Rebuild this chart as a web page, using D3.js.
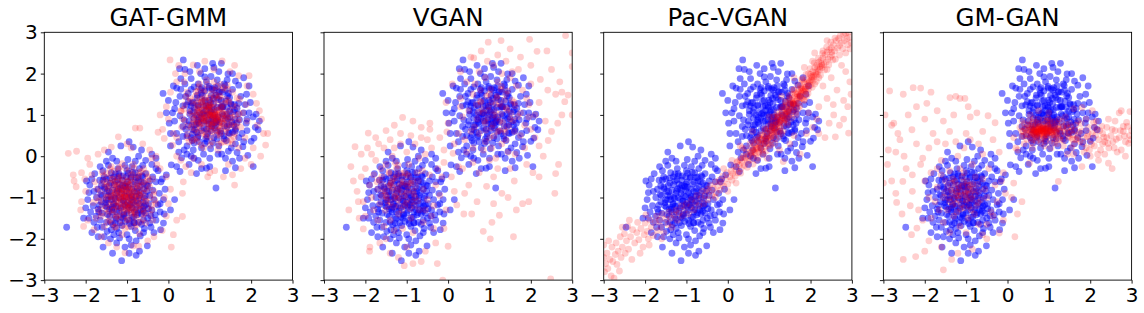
<!DOCTYPE html>
<html>
<head>
<meta charset="utf-8">
<title>GAN mixtures</title>
<style>
  body { margin: 0; background: #fff; }
  text { font-family: "DejaVu Sans", sans-serif; fill: #000; }
</style>
</head>
<body>
<div id="chart"></div>
<script src="https://cdn.jsdelivr.net/npm/d3@7"></script>
<script>
// panel titles and shared ticks
const titles = ['GAT-GMM', 'VGAN', 'Pac-VGAN', 'GM-GAN'];
const ticks = [-3, -2, -1, 0, 1, 2, 3];

// real samples (blue), same in every panel
const realPts = [
  [-2.46,-1.72],[-1.13,-2.53],[-1.15,0.25],[-0.95,0.35],[-0.85,0.22],[-0.19,-1.78],[0.05,-1.3],[0.15,-1.05],[-0.51,-2.17],[-0.68,-1.93],
  [-1.9,-0.7],[-1.95,-1.05],[-1.88,-1.35],[-1.8,-1.6],[-1.72,-1.72],[-1.55,-1.95],[-1.4,-2.0],[-1.25,-2.1],[-1.05,-2.2],[-0.9,-2.15],
  [-0.78,-2.05],[-0.6,-1.85],[-0.42,-1.72],[-0.3,-1.55],[-0.2,-1.35],[-0.12,-1.05],[-0.08,-0.8],[-0.15,-0.55],[-0.25,-0.35],[-0.4,-0.2],
  [-0.55,-0.1],[-0.72,0.0],[-1.35,-0.05],[-1.5,-0.12],[-1.65,-0.25],[-1.78,-0.42],[-1.85,-0.55],[-1.7,-0.8],[-1.62,-1.1],[-1.6,-1.38],
  [-1.5,-1.6],[-1.38,-1.78],[-1.2,-1.85],[-1.0,-1.9],[-0.8,-1.8],[-0.65,-1.65],[-0.5,-1.5],[-0.4,-1.3],[-0.35,-1.05],[-0.38,-0.82],
  [-0.45,-0.6],[-0.55,-0.42],[-0.7,-0.3],[-0.88,-0.25],[-1.05,-0.22],[-1.22,-0.3],[-1.38,-0.4],[-1.5,-0.55],[-1.55,-0.75],[-1.45,-0.95],
  [-1.32,-1.15],[-1.25,-1.35],[-1.1,-1.5],[-0.95,-1.55],[-0.75,-1.42],[-0.62,-1.25],[-0.58,-1.02],[-0.6,-0.8],[-0.72,-0.6],[-0.9,-0.5],
  [-1.1,-0.48],[-1.28,-0.6],[-1.35,-0.82],[-1.2,-1.0],[-1.05,-1.18],[-0.88,-1.25],[-0.78,-1.08],[-0.82,-0.85],[-0.98,-0.75],[-1.12,-0.82],
  [-1.02,-0.98],[-0.92,-1.02],[-1.15,-1.25],[-1.3,-1.0],[-0.7,-0.95],[-0.85,-0.68],[-1.18,-0.68],[-1.42,-1.28],[-1.0,-1.38],[-0.7,-1.15],
  [-2.0,-1.25],[-1.92,-0.88],[-1.82,-1.2],[-1.75,-1.45],[-1.66,-0.58],[-1.58,-0.35],[-1.45,-0.22],[-1.25,-0.12],[-0.98,-0.08],[-0.8,-0.12],
  [-0.62,-0.22],[-0.3,-0.62],[-0.22,-0.9],[-0.25,-1.18],[-0.32,-1.42],[-0.45,-1.62],[-0.58,-1.75],[-0.95,-2.0],[-1.18,-1.98],[-1.32,-1.9],
  [-1.48,-1.82],[-1.6,-1.72],[-1.65,-1.55],[-1.7,-1.28],[-1.74,-1.0],[-1.6,-0.95],[-1.52,-1.2],[-1.42,-1.45],[-1.28,-1.62],[-1.12,-1.68],
  [-0.9,-1.7],[-0.72,-1.6],[-0.55,-1.38],[-0.48,-1.15],[-0.45,-0.95],[-0.5,-0.72],[-0.62,-0.5],[-0.8,-0.4],[-1.0,-0.35],[-1.2,-0.42],
  [-1.4,-0.65],[-1.48,-0.85],[-1.38,-1.05],[-1.22,-1.2],[-0.82,-1.35],[-0.65,-1.4],[-0.88,-1.48],[-1.08,-1.4],[-0.6,-0.65],[-0.75,-0.78],
  [-0.95,-0.88],[-1.08,-1.08],[-1.25,-0.9],[-1.12,-0.58],[-0.98,-0.62],[-0.85,-1.12],[-0.68,-1.3],[-1.35,-1.35],[-1.5,-1.05],[-1.55,-0.5],
  [-0.3,-0.3],[-0.18,-0.62],[-0.1,-1.4],[-0.35,-1.85],[-0.7,-2.3],[-0.78,-2.4],[-1.58,-2.2],[-1.7,-1.95],[-2.05,-1.5],[-1.98,-0.6],
  [-1.45,0.1],[-0.3,-0.05],[-0.05,-0.45],[-0.12,-1.62],[-1.35,-2.35],[-0.95,-2.35],[-1.85,-1.85],[-1.92,-1.5],[-0.4,0.05],[-0.65,0.15],
  [-1.05,-0.72],[-0.9,-0.95],[-1.15,-1.05],[-0.98,-1.22],[-1.28,-1.48],[-0.55,-1.18],[-0.52,-0.85],[-0.78,-0.52],[-1.32,-0.5],[-1.62,-0.72],
  [-1.68,-1.35],[-1.25,-1.75],[-0.82,-1.62],[-0.42,-1.45],[-0.38,-0.5],[-1.02,-0.5],[-1.4,-1.6],[-0.6,-1.55],[-0.2,-1.15],[-1.8,-0.85],
  [-0.93,-1.17],[-1.21,-0.79],[-0.67,-0.88],[-1.36,-1.24],[-0.81,-0.63],[-1.07,-1.43],[-1.44,-0.71],[-0.59,-1.21],[-1.13,-0.91],[-0.87,-1.06],
  [-1.28,-0.43],[-0.73,-1.37],[-1.52,-1.13],[-1.01,-0.67],[-0.64,-0.47],[-1.17,-1.61],[-1.39,-0.97],[-0.96,-1.31],[-0.78,-0.97],[-1.23,-0.57],
  [-1.47,-1.41],[-0.69,-0.73],[-1.09,-1.09],[-0.84,-1.47],[-1.31,-0.69],[-1.02,-0.83],[-0.56,-0.96],[-1.19,-1.33],[-1.63,-0.93],[-0.91,-0.53],
  [-1.33,-1.17],[-0.77,-1.19],[-1.06,-0.96],[-1.41,-0.53],[-0.61,-1.33],[-1.26,-1.52],[-0.97,-0.41],[-1.54,-0.79],[-0.83,-1.61],[-1.11,-0.71],
  [-0.71,-1.02],[-1.37,-1.29],[-0.99,-1.12],[-1.24,-0.84],[-0.89,-0.79],[-1.49,-1.23],[-0.66,-0.62],[-1.14,-1.47],[-0.79,-1.29],[-1.29,-1.03],
  [-1.58,-0.58],[-0.53,-0.71],[-1.04,-1.58],[-1.43,-0.86],[-0.74,-0.51],[-1.19,-0.47],[-0.94,-1.63],[-1.67,-1.19],[-0.48,-1.27],[-1.34,-1.66],
  [-0.86,-0.39],[-1.08,-1.22],[-0.62,-1.11],[-1.46,-1.06],[-1.16,-0.77],[-0.92,-1.18],[-1.27,-1.21],[-0.76,-0.86],[-1.03,-0.74],[-0.88,-0.98],
  [0.36,2.33],[1.07,2.25],[1.15,-0.77],[-0.13,1.52],[0.07,-0.21],[0.2,-0.25],[0.28,-0.37],[0.32,-0.04],[2.17,0.64],[2.07,0.44],
  [2.0,0.36],[1.8,0.23],[1.66,0.09],[2.05,-0.25],[0.92,-0.29],[1.29,0.05],[0.27,2.12],[0.4,2.1],[1.1,2.15],[1.44,1.99],
  [1.03,1.93],[1.89,1.5],[1.7,1.72],[0.12,1.7],[0.2,1.65],[0.02,0.8],[0.05,0.55],[0.1,1.05],[0.18,1.3],[0.25,0.35],
  [0.38,0.15],[0.55,0.0],[0.72,-0.1],[1.0,-0.05],[1.45,0.12],[1.62,0.3],[1.78,0.55],[1.88,0.8],[1.95,1.05],[1.85,1.25],
  [1.75,1.45],[1.55,1.62],[1.35,1.75],[1.18,1.85],[0.92,1.8],[0.72,1.75],[0.55,1.62],[0.42,1.45],[0.35,1.22],[0.28,0.98],
  [0.35,0.72],[0.45,0.5],[0.62,0.32],[0.8,0.2],[1.02,0.18],[1.22,0.25],[1.4,0.38],[1.55,0.58],[1.65,0.8],[1.68,1.02],
  [1.6,1.25],[1.48,1.42],[1.3,1.55],[1.1,1.6],[0.88,1.58],[0.7,1.48],[0.6,1.3],[0.52,1.1],[0.5,0.85],[0.58,0.65],
  [0.72,0.5],[0.9,0.42],[1.1,0.45],[1.28,0.55],[1.42,0.72],[1.48,0.95],[1.42,1.18],[1.28,1.35],[1.08,1.4],[0.88,1.35],
  [0.72,1.22],[0.68,1.0],[0.75,0.78],[0.92,0.65],[1.12,0.68],[1.25,0.82],[1.3,1.02],[1.18,1.18],[0.98,1.18],[0.85,1.05],
  [0.9,0.85],[1.05,0.88],[1.12,1.0],[1.0,1.02],[0.8,0.92],[1.18,0.58],[0.62,0.92],[0.82,1.48],[1.38,1.6],[1.52,1.25],
  [1.72,0.88],[1.9,0.62],[2.1,0.7],[2.05,0.95],[1.98,1.3],[1.82,1.05],[1.7,0.45],[1.52,0.2],[1.2,0.05],[0.85,0.05],
  [0.6,0.15],[0.45,0.25],[0.2,0.55],[0.15,0.85],[0.15,1.15],[0.28,1.45],[0.4,1.75],[0.55,1.88],[0.78,2.0],[1.22,2.05],
  [1.42,1.85],[1.62,1.82],[1.95,1.7],[0.45,0.05],[0.62,-0.05],[0.8,-0.3],[1.0,-0.25],[1.38,-0.05],[1.55,-0.12],[1.72,-0.05],
  [0.98,1.65],[1.2,1.7],[0.62,1.68],[0.48,1.32],[0.38,0.88],[0.42,0.65],[0.55,0.45],[0.75,0.35],[1.35,0.42],[1.58,0.75],
  [1.6,1.12],[1.38,0.88],[0.95,0.55],[0.62,0.75],[0.55,1.22],[1.15,1.48],[1.32,1.2],[0.78,1.62],[1.02,1.3],[0.8,0.62],
  [1.15,0.85],[0.95,1.0],[0.72,0.88],[1.08,0.32],[1.48,0.55],[1.82,0.35],[1.22,1.55],[0.88,1.92],[0.52,2.05],[0.3,1.88],
  [2.12,1.02],[2.2,0.85],[1.92,0.02],[1.62,-0.28],[1.38,-0.35],[0.68,-0.42],[0.5,-0.2],[0.05,0.25],[-0.05,1.05],[0.0,1.35],
  [0.3,1.62],[0.88,2.12],[1.55,2.0],[1.28,2.25],[0.7,2.2],[1.82,1.9],[0.25,0.1],[1.05,0.72],[0.98,0.78],[1.2,0.95],
  [0.85,1.2],[1.05,1.12],[0.68,0.58],[0.58,0.38],[1.7,1.28],[1.9,0.9],[1.45,1.52],[0.35,0.48],[0.48,1.52],[1.62,0.65],
  [0.97,1.23],[1.16,0.83],[0.74,0.94],[1.31,1.19],[0.86,0.68],[1.04,1.47],[1.47,0.76],[0.63,1.16],[1.09,0.96],[0.91,1.11],
  [1.34,0.49],[0.69,1.41],[1.57,1.08],[1.03,0.62],[0.58,0.53],[1.12,1.66],[1.42,1.02],[0.99,1.36],[0.82,1.03],[1.26,0.61],
  [1.43,1.46],[0.66,0.77],[1.11,1.13],[0.79,1.52],[1.36,0.73],[0.97,0.87],[0.52,1.01],[1.22,1.37],[1.61,0.89],[0.94,0.48],
  [1.29,1.21],[0.72,1.24],[1.07,0.92],[1.46,0.57],[0.57,1.29],[1.24,1.56],[0.93,0.36],[1.53,0.83],[0.81,1.66],[1.14,0.74],
  [0.76,1.06],[1.39,1.33],[1.02,1.08],[1.19,0.88],[0.86,0.84],[1.51,1.27],[0.63,0.64],[1.17,1.42],[0.84,1.33],[1.33,0.98],
  [1.62,0.61],[0.49,0.76],[1.06,1.63],[1.44,0.91],[0.71,0.46],[1.18,0.42],[0.98,1.69],[1.66,1.16],[0.44,1.24],[1.37,1.71],
  [0.88,0.31],[1.09,1.27],[0.61,1.07],[1.48,1.09],[1.13,0.81],[0.91,1.22],[1.27,1.18],[0.73,0.82],[1.04,0.78],[0.87,0.99]
];

// generated samples (red), one list per model
const gatGmmPts = [
  [-2.42,0.07],[-2.22,0.12],[-2.3,-0.45],[-2.28,-0.6],[-2.23,-0.74],[-2.1,-0.4],[-2.1,-1.1],[-2.12,-1.3],[-1.21,0.47],[-0.8,0.68],
  [-0.69,0.68],[-0.9,0.2],[-0.4,-0.05],[-0.3,0.0],[0.36,-0.62],[0.34,-0.9],[0.34,-1.46],[0.2,-1.55],[0.12,-1.9],[0.07,-2.2],
  [-1.05,-2.34],[-0.85,-2.17],[-0.72,-2.18],[-1.9,-0.2],[-1.95,-0.05],[-1.7,0.05],[-1.55,0.15],[-1.38,0.22],[-1.0,0.3],[-0.62,0.3],
  [-0.45,0.15],[-0.2,-0.3],[-0.05,-0.5],[0.05,-0.8],[0.0,-1.15],[-0.05,-1.45],[-0.15,-1.8],[-0.35,-1.95],[-0.5,-2.05],[-1.25,-2.2],
  [-1.45,-2.1],[-1.62,-1.95],[-1.8,-1.78],[-1.95,-1.55],[-2.05,-1.7],[-2.0,-0.85],[-2.02,-0.55],[-1.85,-0.45],[-0.28,-0.2],[-0.1,-1.0],
  [-1.0,-0.9],[-1.1,-1.0],[-0.9,-1.05],[-1.2,-0.85],[-0.85,-0.8],[-1.05,-1.2],[-1.25,-1.1],[-0.95,-0.7],[-1.15,-0.65],[-0.75,-1.0],
  [-1.35,-0.95],[-0.7,-1.2],[-1.3,-0.7],[-0.88,-1.3],[-1.1,-1.35],[-1.4,-1.2],[-0.6,-0.9],[-0.65,-0.7],[-1.45,-0.8],[-0.8,-0.55],
  [-1.0,-0.5],[-1.22,-0.5],[-1.5,-1.0],[-1.55,-0.6],[-0.55,-1.1],[-0.6,-1.4],[-0.78,-1.5],[-1.0,-1.55],[-1.25,-1.45],[-1.48,-1.4],
  [-1.6,-1.2],[-1.65,-0.85],[-0.45,-0.75],[-0.5,-0.5],[-0.7,-0.4],[-0.95,-0.35],[-1.2,-0.32],[-1.4,-0.45],[-1.62,-1.45],[-0.4,-1.3],
  [-1.02,-1.05],[-0.92,-0.92],[-1.12,-0.8],[-0.98,-1.15],[-1.18,-0.98],[-0.82,-1.12],[-1.08,-0.72],[-0.72,-0.85],[-1.32,-1.3],[-0.88,-0.62],
  [-1.05,-0.98],[-0.95,-1.0],[-1.15,-1.15],[-0.85,-0.95],[-1.28,-0.88],[-0.78,-1.25],[-1.1,-0.58],[-0.65,-1.05],[-1.38,-1.08],[-0.9,-1.42],
  [-1.18,-1.55],[-1.42,-1.55],[-0.68,-1.6],[-0.52,-1.25],[-0.45,-1.0],[-0.58,-0.62],[-0.85,-0.45],[-1.35,-0.55],[-1.52,-0.75],[-1.72,-1.0],
  [-1.7,-1.3],[-1.55,-1.7],[-1.3,-1.72],[-1.05,-1.75],[-0.82,-1.72],[-0.55,-1.62],[-0.38,-1.55],[-0.3,-1.15],[-0.35,-0.85],[-0.38,-0.55],
  [-0.6,-0.3],[-0.85,-0.2],[-1.12,-0.18],[-1.38,-0.25],[-1.6,-0.38],[-1.78,-0.62],[-1.82,-1.12],[-1.75,-1.5],[-1.12,-1.9],[-0.7,-1.88],
  [-1.0,-0.8],[-1.08,-0.88],[-0.92,-0.82],[-1.02,-1.3],[-1.22,-1.22],[-0.72,-0.72],[-0.8,-1.38],[-1.3,-0.62],[-0.62,-1.28],[-1.45,-0.98],
  [-0.98,-0.6],[-1.25,-0.75],[-0.75,-0.68],[-0.95,-1.25],[-1.15,-1.28],[-0.68,-0.95],[-1.35,-1.42],[-0.52,-0.82],[-1.58,-1.05],[-1.48,-0.62],
  [-1.06,-0.93],[-0.88,-1.14],[-1.19,-0.76],[-0.94,-0.68],[-1.27,-1.07],[-0.71,-0.92],[-1.12,-1.24],[-0.83,-0.77],[-1.38,-0.84],[-1.01,-1.36],
  [-0.66,-1.17],[-1.23,-0.62],[-0.97,-0.99],[-1.33,-1.31],[-0.79,-1.43],[-1.14,-0.48],[-0.57,-0.79],[-1.46,-1.16],[-0.91,-0.57],[-1.09,-1.09],
  [-1.29,-0.93],[-0.74,-1.04],[-1.03,-0.72],[-1.18,-1.41],[-0.86,-1.27],[-1.41,-0.66],[-0.63,-0.63],[-1.07,-1.17],[-0.96,-0.84],[-1.24,-1.22],
  [-0.81,-0.96],[-1.36,-1.02],[-1.13,-0.87],[-0.69,-1.31],[-0.99,-1.53],[-1.52,-0.91],[-0.89,-0.44],[-1.21,-0.53],[-0.77,-0.71],[-1.16,-1.03],
  [-1.02,-1.21],[-0.93,-0.96],[-1.31,-0.77],[-0.84,-1.09],[-1.11,-0.64],[-1.44,-1.33],[-0.61,-0.98],[-1.26,-1.48],[-0.72,-0.54],[-1.05,-0.81],
  [-0.98,-1.27],[-1.17,-0.99],[-0.87,-0.86],[-1.35,-0.57],[-0.76,-1.22],[-1.08,-1.46],[-0.54,-1.08],[-1.48,-0.73],[-0.92,-1.16],[-1.2,-1.13],
  [-1.04,-1.01],[-0.95,-0.77],[-1.15,-0.91],[-0.82,-1.34],[-1.32,-1.18],[-0.68,-0.83],[-1.25,-0.71],[-1.0,-0.62],[-0.9,-1.38],[-1.39,-0.98],
  [-1.1,-0.79],[-0.85,-1.0],[-0.97,-1.11],[-1.22,-1.01],[-0.78,-0.89],[-1.07,-0.98],[-0.93,-1.24],[-1.19,-0.84],[-0.73,-1.13],[-1.3,-0.88],
  [-1.52,-1.27],[-0.48,-0.67],[-1.31,-0.36],[-0.62,-1.52],[-1.61,-0.66],[-0.41,-1.19],[-1.12,-1.67],[-0.83,-0.29],[-1.47,-1.58],[-0.53,-0.41],
  [-1.68,-1.08],[-0.36,-0.93],[-1.19,-0.27],[-0.77,-1.66],[-1.57,-0.47],[-0.44,-1.41],[-0.97,-1.71],[-1.41,-0.31],[-0.58,-1.37],[-1.36,-1.63],
  [-0.66,-0.37],[-1.73,-0.79],[-0.33,-1.07],[-1.04,-0.29],[-0.86,-1.58],[-1.63,-1.37],[-0.49,-0.57],[-1.27,-1.71],[-0.71,-0.47],[-1.49,-0.42],
  [0.04,2.33],[0.17,2.0],[0.6,2.21],[0.88,2.3],[1.3,2.31],[1.49,2.05],[2.13,1.28],[2.2,1.1],[2.35,0.27],[2.23,0.0],
  [2.0,-0.2],[1.6,-0.7],[1.33,-0.5],[1.0,-0.4],[1.12,-0.35],[0.55,-0.4],[0.6,-0.05],[-0.25,0.58],[-0.14,0.65],[-0.1,0.43],
  [0.1,0.27],[0.0,0.9],[-0.05,1.2],[0.05,1.55],[0.2,1.8],[0.4,2.0],[0.75,2.05],[1.1,2.1],[1.7,1.95],[1.9,1.7],
  [2.05,1.5],[2.15,0.75],[2.3,0.55],[2.05,0.2],[1.75,-0.3],[1.45,-0.2],[0.8,-0.2],[0.3,-0.1],[0.2,0.0],[0.12,0.55],
  [1.85,-0.05],[2.25,0.9],[0.25,2.2],[1.95,1.95],[-0.2,1.0],[0.42,-0.25],[1.6,2.2],[2.4,0.55],[0.95,-0.5],[1.55,-0.45],
  [1.0,1.0],[1.1,0.9],[0.9,0.95],[1.15,1.1],[0.85,0.8],[1.05,0.75],[1.25,0.95],[0.95,1.2],[0.75,1.05],[1.3,0.8],
  [1.2,1.25],[0.8,1.3],[1.35,1.1],[0.7,0.8],[1.05,0.6],[1.4,0.65],[0.65,1.0],[1.0,1.4],[1.25,1.45],[0.6,1.25],
  [0.55,0.7],[0.8,0.55],[1.25,0.5],[1.55,0.8],[1.5,1.05],[1.45,1.35],[0.5,1.05],[0.85,1.55],[1.15,1.6],[0.65,1.45],
  [1.6,0.55],[0.45,0.45],[0.7,0.35],[1.05,0.35],[1.35,0.35],[1.7,0.9],[1.65,1.2],[1.55,1.55],[0.4,0.85],[0.4,1.25],
  [1.02,0.98],[0.92,0.88],[1.12,0.82],[0.98,1.12],[1.18,1.0],[0.88,1.08],[1.08,1.18],[0.82,0.95],[1.32,1.25],[0.78,0.68],
  [0.95,1.02],[1.05,1.05],[1.15,0.95],[0.85,0.92],[1.28,0.72],[1.22,1.12],[0.72,1.18],[0.95,0.65],[1.38,0.92],[1.1,1.38],
  [0.9,1.42],[0.62,0.6],[0.6,0.9],[1.45,0.5],[1.5,0.92],[0.72,1.58],[1.3,1.6],[1.02,0.48],[0.52,1.4],[1.62,1.0],
  [1.75,0.7],[1.8,1.05],[1.72,1.38],[1.42,1.72],[1.1,1.8],[0.75,1.75],[0.45,1.55],[0.3,1.1],[0.32,0.7],[0.5,0.35],
  [0.85,0.2],[1.2,0.15],[1.55,0.3],[1.85,0.45],[1.9,0.85],[1.88,1.25],[0.92,1.85],[0.38,1.8],[0.2,0.45],[1.7,0.2],
  [1.05,0.88],[0.98,0.78],[1.08,0.98],[1.2,0.62],[0.88,1.22],[1.35,1.02],[0.68,0.98],[1.15,1.48],[0.78,0.82],[1.42,0.78],
  [1.0,1.25],[1.25,0.85],[0.82,1.38],[1.12,0.7],[0.7,1.32],[1.38,1.38],[0.58,0.78],[1.6,0.72],[1.05,1.62],[0.9,0.52],
  [1.03,0.97],[0.86,1.12],[1.22,0.81],[0.97,0.72],[1.31,1.04],[0.74,0.89],[1.09,1.27],[0.81,0.79],[1.41,0.87],[0.98,1.33],
  [0.69,1.14],[1.26,0.66],[1.0,1.01],[1.36,1.28],[0.76,1.41],[1.17,0.51],[0.61,0.82],[1.49,1.13],[0.88,0.6],[1.12,1.06],
  [1.32,0.91],[0.71,1.07],[1.06,0.74],[1.21,1.38],[0.84,1.24],[1.44,0.69],[0.66,0.66],[1.04,1.19],[0.93,0.86],[1.27,1.19],
  [0.79,0.99],[1.39,1.01],[1.16,0.89],[0.67,1.28],[1.02,1.51],[1.54,0.94],[0.91,0.47],[1.24,0.56],[0.74,0.73],[1.13,1.01],
  [0.99,1.18],[0.91,0.94],[1.34,0.79],[0.82,1.11],[1.14,0.62],[1.47,1.31],[0.59,0.97],[1.23,1.46],[0.73,0.57],[1.08,0.83],
  [1.01,1.24],[1.19,0.97],[0.86,0.88],[1.37,0.59],[0.77,1.19],[1.11,1.44],[0.56,1.09],[1.51,0.76],[0.94,1.14],[1.18,1.11],
  [1.05,1.03],[0.96,0.79],[1.17,0.93],[0.81,1.32],[1.29,1.16],[0.69,0.84],[1.23,0.73],[1.02,0.64],[0.89,1.36],[1.41,0.96],
  [1.09,0.81],[0.84,1.02],[0.98,1.09],[1.21,1.03],[0.79,0.91],[1.07,0.99],[0.92,1.22],[1.18,0.86],[0.72,1.12],[1.28,0.89],
  [1.56,1.22],[0.46,0.72],[1.28,0.33],[0.67,1.56],[1.64,0.71],[0.37,1.14],[1.16,1.69],[0.79,0.27],[1.43,1.62],[0.57,0.38],
  [1.71,1.03],[0.34,0.91],[1.21,0.29],[0.73,1.68],[1.59,0.46],[0.42,1.43],[0.94,1.73],[1.44,0.34],[0.54,1.33],[1.33,1.66],
  [0.63,0.41],[1.69,0.83],[0.31,1.09],[1.01,0.26],[0.87,1.61],[1.66,1.41],[0.47,0.54],[1.26,1.74],[0.69,0.44],[1.52,0.39]
];

const vganPts = [
  [-2.29,-0.6],[-2.25,0.23],[-1.93,0.56],[-1.1,0.94],[-0.44,0.8],[-0.44,0.65],[-0.03,0.59],[-2.17,-1.1],[-2.05,-1.76],[-1.89,-2.2],
  [-1.9,-2.3],[-1.4,-2.35],[-1.06,-2.65],[-0.85,-2.6],[-0.26,-2.6],[-2.35,-0.25],[-2.1,0.05],[-1.75,0.45],[-1.5,0.62],[-1.3,0.75],
  [-0.85,0.85],[-0.65,0.7],[-0.2,0.45],[0.12,0.07],[0.25,-0.25],[0.08,-0.5],[-0.1,-0.15],[0.15,-0.85],[-0.05,-1.3],[-0.1,-1.75],
  [-0.3,-2.1],[-0.55,-2.3],[-1.2,-2.45],[-1.65,-2.1],[-2.0,-1.45],[-2.2,-0.85],[-1.95,0.2],[-0.5,0.4],[-2.4,-1.3],[-0.65,-2.55],
  [-1.2,-0.8],[-1.0,-0.9],[-1.4,-0.7],[-1.1,-0.5],[-1.3,-1.0],[-0.9,-0.65],[-1.5,-0.95],[-0.8,-1.0],[-1.25,-0.3],[-1.6,-0.5],
  [-1.45,-1.2],[-1.05,-1.2],[-0.75,-0.4],[-0.95,-0.2],[-1.5,-0.2],[-1.7,-0.8],[-0.6,-0.8],[-0.7,-1.3],[-1.2,-1.4],[-1.65,-1.15],
  [-1.8,-0.45],[-1.35,0.0],[-1.0,0.1],[-0.7,-0.05],[-0.45,-0.45],[-0.5,-1.05],[-0.9,-1.5],[-1.4,-1.55],[-1.8,-1.3],[-1.9,-0.7],
  [-1.75,-0.1],[-1.55,0.2],[-1.15,0.3],[-0.8,0.3],[-0.55,0.05],[-0.3,-0.7],[-0.35,-1.2],[-0.6,-1.6],[-1.1,-1.75],[-1.55,-1.7],
  [-1.15,-0.65],[-1.32,-0.55],[-0.98,-0.72],[-1.22,-1.05],[-1.42,-0.42],[-0.85,-0.85],[-1.05,-0.4],[-1.58,-0.68],[-0.72,-0.6],[-1.35,-0.85],
  [-1.0,-1.05],[-1.28,-0.15],[-1.62,-0.3],[-0.82,-1.2],[-1.12,-1.3],[-1.48,-1.0],[-1.85,-1.0],[-2.0,-0.3],[-1.15,0.55],[-0.9,0.5],
  [-0.4,0.2],[-0.25,-0.3],[-0.2,-0.95],[-0.4,-1.45],[-0.85,-1.85],[-1.3,-1.8],[-1.7,-1.55],[-2.05,-1.1],[-1.68,0.3],[-1.4,0.4],
  [-1.22,-0.9],[-1.08,-0.62],[-0.95,-0.48],[-1.38,-0.65],[-1.25,-0.45],[-0.88,-1.1],[-1.52,-0.85],[-0.62,-0.35],[-1.72,-0.62],[-0.55,-1.3],
  [-1.3,0.2],[-0.65,0.45],[-1.85,0.05],[-2.1,-0.5],[-0.15,-0.5],[-0.1,0.15],[-0.35,-1.75],[-1.0,-2.2],[-1.5,-2.0],[-2.15,-1.5],
  [-1.23,-0.74],[-1.06,-0.96],[-1.37,-0.61],[-0.97,-0.82],[-1.48,-1.07],[-1.14,-0.41],[-0.86,-0.59],[-1.31,-1.23],[-1.57,-0.83],[-1.02,-1.14],
  [-1.28,-0.96],[-0.79,-0.74],[-1.43,-0.38],[-1.17,-1.02],[-0.92,-1.27],[-1.66,-0.57],[-1.09,-0.68],[-1.34,-0.77],[-0.73,-1.08],[-1.21,-0.22],
  [-1.52,-1.31],[-0.99,-0.44],[-1.39,-1.12],[-1.12,-0.86],[-0.83,-0.92],[-1.26,-0.52],[-1.61,-0.97],[-0.94,-0.66],[-1.19,-1.19],[-1.44,-0.73],
  [0.97,2.76],[1.28,2.8],[1.97,2.83],[2.84,2.92],[3.0,2.5],[3.0,2.17],[2.39,2.55],[2.15,2.54],[0.55,2.4],[0.62,2.38],
  [2.23,1.86],[2.41,1.6],[2.6,1.5],[2.75,1.55],[2.9,1.48],[2.82,1.32],[3.0,1.0],[2.75,1.0],[2.65,0.8],[2.5,0.6],
  [2.42,0.38],[2.2,0.25],[2.67,-0.2],[2.6,-0.42],[2.05,-0.4],[2.2,-0.5],[2.58,-0.9],[1.95,-1.1],[1.8,-1.15],[1.65,-1.3],
  [1.58,-1.95],[2.48,-2.97],[1.02,-2.0],[0.85,-1.82],[1.06,-1.6],[1.24,-1.43],[0.38,-1.4],[0.57,-1.4],[0.21,-1.18],[0.0,-2.18],
  [-0.13,-3.0],[0.93,-0.73],[1.5,2.6],[1.75,2.4],[0.8,2.55],[2.0,2.2],[2.5,2.1],[1.4,2.3],[0.3,2.05],[2.7,1.8],
  [0.1,1.75],[-0.05,1.3],[0.0,0.8],[0.15,0.3],[0.35,-0.3],[0.5,-0.7],[0.7,-1.1],[1.3,-0.9],[1.6,-0.6],[1.9,-0.2],
  [2.3,0.0],[2.35,0.85],[2.2,1.3],[1.2,-0.3],[0.6,-0.15],[1.45,-1.0],[0.4,-0.9],[1.1,-1.15],[2.0,0.65],[0.3,1.4],
  [1.1,1.0],[1.3,1.2],[0.9,0.8],[1.2,0.6],[0.8,1.3],[1.5,0.9],[1.0,1.5],[1.4,1.5],[0.7,0.9],[1.6,1.3],
  [1.2,1.8],[0.9,1.9],[1.5,1.9],[0.6,1.5],[1.8,1.6],[1.75,1.05],[1.3,0.3],[0.9,0.35],[0.55,0.6],[0.5,1.1],
  [1.05,0.2],[1.45,0.1],[1.75,0.5],[1.95,0.95],[1.9,1.4],[1.55,2.05],[1.1,2.2],[0.75,2.05],[0.45,1.8],[0.35,0.95],
  [0.6,0.2],[1.0,-0.1],[1.5,-0.3],[1.85,0.2],[2.1,1.0],[2.0,1.75],[1.3,2.0],[0.65,1.75],[0.25,0.55],[0.45,0.1],
  [1.15,1.25],[0.98,1.1],[1.25,0.85],[1.42,1.12],[0.85,1.05],[1.05,0.68],[1.35,0.65],[1.6,0.6],[0.75,0.55],[1.18,1.45],
  [1.65,1.7],[1.0,0.45],[1.55,1.35],[0.78,1.6],[1.28,1.62],[1.4,0.4],[0.68,1.25],[1.85,0.75],[1.7,2.1],[1.2,2.45],
  [0.85,0.15],[1.15,-0.05],[1.62,0.05],[2.1,0.45],[0.4,0.4],[0.3,1.2],[1.95,1.25],[0.95,2.3],[1.1,-0.5],[0.75,-0.4],
  [1.14,1.08],[0.97,0.93],[1.32,0.81],[1.06,1.32],[1.41,1.17],[0.82,1.14],[1.23,0.62],[1.52,1.04],[0.91,0.63],[1.18,1.41],
  [1.36,1.36],[0.73,1.06],[1.09,0.77],[1.46,0.72],[0.98,1.21],[1.27,1.02],[1.62,1.22],[0.87,0.86],[1.16,0.92],[1.03,1.62],
  [1.38,0.58],[0.64,0.71],[1.24,1.27],[1.57,0.86],[0.93,1.46],[1.11,0.49],[1.44,1.58],[0.78,1.33],[1.29,1.69],[1.69,0.96]
];

const pacVganPts = [
  [-3.0,-2.45],[-2.98,-2.8],[-2.95,-2.6],[-2.92,-2.35],[-2.9,-2.72],[-2.85,-2.5],[-2.82,-2.9],[-2.8,-2.2],[-2.78,-2.55],[-2.72,-2.38],
  [-2.7,-2.1],[-2.68,-2.62],[-2.65,-2.3],[-2.6,-1.95],[-2.58,-2.45],[-2.55,-2.2],[-2.5,-1.88],[-2.48,-2.35],[-2.45,-2.05],[-2.42,-1.7],
  [-2.4,-2.25],[-2.35,-1.95],[-2.32,-2.5],[-2.3,-1.78],[-2.25,-2.1],[-2.2,-1.85],[-2.18,-1.6],[-2.15,-2.02],[-2.1,-1.75],[-2.05,-2.2],
  [-2.02,-1.9],[-2.0,-1.62],[-1.95,-1.82],[-1.92,-2.0],[-1.88,-1.55],[-1.85,-1.72],[-1.8,-1.92],[-1.75,-1.6],[-1.72,-1.45],[-1.7,-1.8],
  [-1.65,-1.55],[-1.62,-1.7],[-1.58,-1.4],[-1.55,-1.85],[-1.5,-1.52],[-1.45,-1.65],[-1.42,-1.35],[-1.38,-1.5],[-1.35,-1.72],[-1.3,-1.42],
  [-1.25,-1.3],[-1.22,-1.55],[-1.18,-1.38],[-1.12,-1.2],[-1.1,-1.45],[-1.05,-1.3],[-1.0,-1.15],[-0.95,-1.4],[-0.9,-1.22],[-0.88,-1.05],
  [-0.82,-1.3],[-0.78,-1.12],[-0.75,-0.95],[-0.7,-1.2],[-0.65,-1.02],[-0.62,-0.85],[-0.58,-1.15],[-0.55,-0.95],[-0.5,-0.8],[-0.48,-1.05],
  [-2.88,-2.05],[-2.62,-2.78],[-2.38,-1.55],[-2.12,-2.35],[-1.98,-1.42],[-1.6,-2.0],[-2.55,-1.72],[-3.0,-2.15],[-2.75,-2.95],[-1.9,-2.15],
  [-0.45,-0.85],[-0.42,-0.7],[-0.38,-0.95],[-0.35,-0.78],[-0.3,-0.62],[-0.28,-0.88],[-0.25,-0.72],[-0.2,-0.58],[-0.18,-0.82],[-0.15,-0.65],
  [-0.12,-0.48],[-0.1,-0.72],[-0.05,-0.55],[-0.02,-0.4],[0.0,-0.68],[0.05,-0.5],[0.08,-0.35],[0.1,-0.58],[0.12,-0.42],[0.15,-0.25],
  [0.18,-0.48],[0.2,-0.32],[0.22,-0.15],[0.25,-0.4],[0.28,-0.22],[0.3,-0.08],[0.32,-0.3],[0.35,-0.15],[0.38,0.0],[0.4,-0.22],
  [0.42,-0.05],[0.45,0.1],[0.48,-0.12],[0.5,0.02],[-0.1,-0.3],[0.0,-0.85],[0.2,-0.65],[0.35,0.2],[-0.3,-1.0],[0.1,-0.1],
  [0.52,-0.1],[0.55,0.08],[0.58,0.2],[0.6,-0.02],[0.62,0.12],[0.65,0.28],[0.68,0.05],[0.7,0.18],[0.72,0.32],[0.75,0.1],
  [0.78,0.25],[0.8,0.4],[0.82,0.15],[0.85,0.3],[0.88,0.48],[0.9,0.22],[0.92,0.38],[0.95,0.55],[0.98,0.3],[1.0,0.45],
  [0.6,0.35],[0.75,0.45],[0.9,0.62],[0.7,-0.1],[0.85,0.05],[1.0,0.25],
  [1.02,0.62],[1.05,0.4],[1.08,0.55],[1.1,0.75],[1.12,0.5],[1.15,0.65],[1.18,0.85],[1.2,0.6],[1.22,0.78],[1.25,0.95],
  [1.28,0.7],[1.3,0.88],[1.32,1.05],[1.35,0.8],[1.38,0.98],[1.4,1.15],[1.42,0.9],[1.45,1.08],[1.48,1.25],[1.5,1.0],
  [1.05,0.8],[1.15,0.42],[1.25,0.6],[1.35,1.2],[1.45,0.82],[1.12,0.95],[1.3,0.55],[1.4,1.3],[1.2,0.92],[1.48,1.4],
  [1.08,0.7],[1.18,0.7],[1.28,0.85],[1.38,0.9],[1.22,1.0],[1.42,1.05],
  [1.52,1.18],[1.55,1.35],[1.58,1.1],[1.6,1.28],[1.62,1.45],[1.65,1.2],[1.68,1.38],[1.7,1.55],[1.72,1.3],[1.75,1.48],
  [1.78,1.65],[1.8,1.4],[1.82,1.58],[1.85,1.75],[1.88,1.5],[1.9,1.68],[1.92,1.85],[1.95,1.62],[1.98,1.8],[2.0,1.98],
  [1.55,1.5],[1.65,1.0],[1.75,1.7],[1.85,1.35],[1.95,2.0],[1.6,1.6],[1.7,1.15],[1.8,1.85],[1.9,1.45],[2.0,1.72],
  [1.58,1.28],[1.68,1.5],[1.78,1.52],[1.88,1.62],
  [2.02,1.85],[2.05,2.05],[2.08,1.92],[2.1,2.15],[2.12,1.98],[2.15,2.2],[2.18,2.05],[2.2,2.28],[2.22,2.1],[2.25,2.32],
  [2.28,2.15],[2.3,2.38],[2.32,2.22],[2.35,2.45],[2.38,2.28],[2.4,2.52],[2.42,2.35],[2.45,2.58],[2.48,2.4],[2.5,2.62],
  [2.1,1.75],[2.2,1.9],[2.3,2.55],[2.4,2.1],[2.05,2.3],
  [2.52,2.45],[2.55,2.7],[2.58,2.55],[2.62,2.8],[2.65,2.62],[2.68,2.85],[2.7,2.68],[2.72,2.92],[2.75,2.75],[2.78,2.6],
  [2.8,2.95],[2.82,2.8],[2.85,2.98],[2.88,2.85],[2.9,2.7],[2.92,3.0],[2.95,2.88],[2.98,2.75],[2.6,2.35],[2.85,2.5],
  [2.95,2.6],[2.7,2.45],
  [2.92,0.56],[2.6,0.47],[2.64,1.6],[2.8,1.35],[2.9,1.2],[2.56,1.0],[2.7,0.75],[2.35,0.45],[2.2,0.55],[1.9,0.55],
  [2.05,0.7],[1.34,-0.13],[1.75,0.05],[2.85,2.05],[2.95,1.8],[2.5,1.9],[2.75,2.2],[2.4,1.4],[2.2,1.2],[1.95,1.05],
  [2.3,1.7],[2.98,1.5],[2.55,1.25],[1.6,0.5],[1.25,0.15],[2.45,0.8],[2.15,0.9],[2.8,0.9],[0.95,-0.05],[1.5,0.3],
  [1.0,0.95],[1.3,1.45],[1.6,1.9],[1.85,2.15],[2.1,2.5],[0.6,0.6],[0.3,0.25],[2.4,2.8],
  [0.57,0.03],[0.63,0.17],[0.69,0.21],[0.74,0.2],[0.81,0.31],[0.86,0.37],[0.93,0.44],[0.97,0.49],[1.03,0.56],[1.07,0.63],
  [1.13,0.68],[1.17,0.77],[1.23,0.82],[1.27,0.86],[1.33,0.93],[1.37,1.03],[1.43,1.09],[1.47,1.13],[1.53,1.21],[1.57,1.29],
  [1.63,1.34],[1.67,1.43],[1.73,1.47],[1.77,1.56],[1.83,1.62],[1.87,1.66],[1.93,1.76],[1.97,1.83],[2.03,1.9],[2.07,1.96],
  [2.13,2.04],[2.17,2.12],[2.23,2.17],[2.27,2.24],[0.66,0.09],[0.79,0.19],[0.91,0.31],[1.04,0.47],[1.16,0.58],[1.26,0.74],
  [1.36,0.87],[1.46,0.97],[1.56,1.16],[1.66,1.27],[1.76,1.41],[1.86,1.57],[1.96,1.71],[2.06,1.83],[2.16,1.97],[0.72,0.38],
  [0.84,0.51],[0.96,0.67],[1.09,0.84],[1.21,0.97],[1.31,1.12],[1.41,1.24],[1.51,1.37],[1.63,1.52],[1.74,1.63],[1.84,1.8],
  [0.24,-0.12],[0.31,-0.41],[0.43,0.18],[0.47,-0.27],[0.54,0.31],[0.61,-0.19],[0.67,0.41],[0.73,-0.04],[0.79,0.52],[0.84,0.09],
  [0.89,0.66],[0.93,0.13],[0.99,0.73],[1.04,0.27],[1.09,0.96],[1.14,0.31],[1.19,1.06],[1.24,0.47],[1.29,1.18],[1.34,0.61],
  [1.39,1.32],[1.44,0.76],[1.49,1.47],[1.54,0.92],[1.59,1.61],[1.64,1.06],[1.69,1.73],[1.74,1.21],[1.79,1.87],[1.84,1.37],
  [1.89,1.98],[1.94,1.52],[1.99,2.12],[2.04,1.67],[2.09,2.26],[2.14,1.81],[2.19,2.37],[2.24,1.96],[2.29,2.49],[2.34,2.09],
  [2.39,2.64],[2.44,2.21],[2.49,2.76],[2.54,2.33],[2.59,2.86],[0.36,-0.04],[0.59,0.13],[0.83,0.41],[1.07,0.71],[1.31,0.99],
  [1.55,1.31],[1.79,1.61],[2.03,1.93],[2.27,2.2],[2.51,2.52],[1.11,0.58],[1.47,1.06],[1.71,1.44],[0.98,0.41],[1.58,1.26]
];

const gmGanPts = [
  [0.85,0.62],[0.75,0.65],[0.95,0.58],[0.65,0.6],[1.05,0.65],[0.8,0.55],[0.9,0.7],[0.7,0.52],[1.0,0.5],[0.6,0.68],
  [1.1,0.58],[0.55,0.58],[0.78,0.72],[0.88,0.48],[1.15,0.7],[0.68,0.75],[0.98,0.75],[0.5,0.62],[1.2,0.55],[0.72,0.45],
  [0.82,0.6],[0.92,0.65],[0.62,0.55],[1.02,0.62],[0.76,0.58],[0.86,0.68],[0.96,0.52],[0.66,0.66],[1.08,0.52],[0.58,0.72],
  [0.45,0.55],[0.42,0.68],[1.25,0.65],[1.3,0.5],[0.7,0.82],[0.95,0.85],[0.55,0.45],[1.12,0.42],[0.8,0.4],[1.35,0.72],
  [0.88,0.58],[0.8,0.66],[0.72,0.6],[0.9,0.55],[0.98,0.68],[0.64,0.62],[1.06,0.58],[0.76,0.5],[0.84,0.74],[1.18,0.62],
  [0.48,0.75],[0.38,0.6],[1.4,0.55],[1.28,0.4],[0.62,0.4],[1.02,0.8],[0.75,0.9],[1.45,0.68],[0.35,0.48],[1.15,0.85],
  [0.81,0.64],[0.73,0.59],[0.94,0.67],[0.67,0.63],[1.03,0.57],[0.86,0.53],[0.77,0.71],[0.91,0.61],[0.63,0.57],[1.12,0.63],
  [0.69,0.69],[0.99,0.61],[0.84,0.57],[0.57,0.64],[1.07,0.71],[0.79,0.62],[0.89,0.66],[0.71,0.55],[0.96,0.56],[1.17,0.58],
  [0.61,0.61],[0.83,0.69],[1.01,0.69],[0.74,0.67],[0.92,0.51],[0.53,0.69],[1.14,0.51],[0.66,0.52],[0.87,0.77],[1.21,0.67],
  [0.78,0.54],[0.95,0.63],[0.7,0.64],[1.06,0.6],[0.82,0.66],[0.59,0.53],[0.88,0.6],[1.1,0.66],[0.75,0.62],[0.97,0.72],
  [0.34,0.61],[0.41,0.79],[0.47,0.41],[0.52,0.86],[0.58,0.33],[0.63,0.91],[0.69,0.37],[0.74,0.79],[0.81,0.31],[0.86,0.88],
  [0.92,0.38],[0.97,0.93],[1.03,0.36],[1.08,0.82],[1.14,0.33],[1.19,0.79],[1.24,0.44],[1.31,0.84],[1.36,0.39],[1.42,0.77],
  [1.47,0.48],[1.53,0.71],[1.58,0.52],[1.63,0.63],[1.69,0.42],[0.39,0.49],[0.44,0.64],[0.56,0.77],[1.27,0.58],[1.38,0.61],
  [1.49,0.59],[0.67,0.47],[1.16,0.47],[0.61,0.83],[1.01,0.88],[0.87,0.43],[1.33,0.69],[1.22,0.73],[0.51,0.52],[1.57,0.41],
  [1.5,0.45],[1.55,0.62],[1.6,0.3],[1.65,0.75],[1.7,0.5],[1.75,0.35],[1.8,0.62],[1.85,0.45],[1.9,0.2],[1.95,0.7],
  [2.0,0.4],[2.05,0.55],[2.1,0.25],[2.15,0.65],[2.2,0.4],[2.25,0.15],[2.3,0.55],[2.35,0.35],[2.4,0.7],[2.45,0.2],
  [2.5,0.5],[2.55,0.35],[2.6,0.62],[2.65,0.1],[2.7,0.45],[2.75,0.15],[2.8,0.6],[2.85,0.35],[2.9,0.72],[2.95,0.5],
  [3.0,0.62],[2.96,1.08],[2.7,1.05],[2.75,1.1],[2.44,0.9],[2.8,0.72],[2.98,0.4],[2.85,0.0],[2.44,-0.17],[2.53,-0.3],
  [1.8,-0.25],[1.6,0.05],[1.6,1.15],[1.8,1.18],[2.05,1.1],[1.4,0.95],[1.55,0.2],[2.0,0.0],[2.2,-0.1],[1.35,0.25],
  [1.7,0.85],[1.9,0.9],[2.15,0.85],[1.45,0.05],[1.25,0.9],[2.6,0.85],[2.35,0.05],[1.65,0.4],[1.95,0.55],[2.3,0.3],
  [1.2,0.3],[1.5,0.8],[1.85,0.1],[2.1,0.7],[2.4,0.45],
  [1.73,0.58],[1.83,0.31],[1.93,0.48],[2.03,0.29],[2.13,0.51],[2.23,0.62],[2.33,0.46],[2.43,0.31],[2.53,0.65],[2.63,0.41],
  [2.73,0.62],[2.83,0.49],[2.93,0.31],[1.78,0.79],[2.08,0.82],[2.28,0.72],[2.58,0.2],[2.88,0.82],[1.98,0.15],[2.18,0.05],
  [0.2,0.2],[0.25,0.15],[0.53,-0.17],[0.35,0.85],[0.4,0.3],[0.55,1.0],[1.0,1.05],[0.3,0.7],[0.9,0.25],[0.6,0.2],
  [0.15,0.45],[1.05,0.2],[0.75,1.1],[1.23,-0.61],
  [-2.85,1.58],[-2.52,1.5],[-2.28,1.66],[-2.1,1.65],[-2.96,1.0],[-2.75,0.8],[-2.8,0.75],[-2.31,0.64],[-1.95,1.28],[-1.39,1.42],
  [-1.25,1.45],[-1.15,1.4],[-1.03,1.4],[-0.74,1.05],[-0.47,0.98],[-0.3,0.81],[-2.88,0.15],[-2.7,0.1],[-2.5,0.0],[-2.8,-0.6],
  [-3.0,-0.65],[-2.53,-0.61],[-2.68,-1.12],[-2.55,-1.4],[-2.19,-1.74],[-2.32,-1.9],[-2.52,-2.5],[-2.22,-2.43],[-1.55,-2.75],[-0.2,-1.86],
  [0.18,-1.95],[0.24,-1.4],[0.35,-1.1],[0.15,-0.65],[-2.2,1.2],[-1.7,1.1],[-1.55,0.85],[-2.0,0.9],[-2.4,1.0],[-1.3,1.0],
  [-0.9,0.95],[-0.6,0.6],[-0.35,0.4],[-2.6,0.4],[-2.2,0.3],[-1.8,0.55],[-2.9,-0.2],[-2.45,-0.3],[-2.7,-0.9],[-2.35,-1.2],
  [-1.9,-2.05],[-1.6,-2.2],[-1.2,-2.35],[-0.85,-2.25],[-0.5,-2.0],[-0.1,-1.55],[0.1,-1.0],[-0.1,-0.4],[-0.2,0.1],[-1.0,0.55],
  [-1.4,0.6],[-2.05,-0.05],[-0.7,0.3],[-2.3,-0.85],[-1.85,1.55],[-0.95,1.2],[-2.65,0.55],[-0.05,-0.9],[-1.35,-2.5],[-2.0,-2.3],
  [-1.0,-0.9],[-1.2,-0.7],[-0.85,-1.05],[-1.35,-0.9],[-1.1,-0.5],[-0.9,-0.7],[-1.5,-0.6],[-0.7,-0.85],[-1.25,-1.15],[-1.05,-1.25],
  [-0.75,-1.2],[-1.55,-1.0],[-1.4,-0.35],[-1.15,-0.3],[-0.6,-0.55],[-1.7,-0.75],[-0.5,-1.0],[-0.95,-1.5],[-1.3,-1.45],[-1.65,-1.3],
  [-1.85,-0.4],[-1.6,-0.1],[-1.2,0.0],[-0.85,-0.2],[-0.45,-0.3],[-0.4,-1.35],[-0.7,-1.65],[-1.15,-1.7],[-1.55,-1.6],[-1.9,-1.0],
  [-1.02,-0.85],[-1.12,-0.95],[-0.92,-0.92],[-1.28,-0.78],[-0.98,-0.6],[-1.18,-1.05],[-0.82,-0.8],[-1.4,-1.1],[-1.08,-0.72],[-0.88,-1.3],
  [-1.45,-0.75],[-1.32,-0.55],[-0.65,-1.05],[-1.6,-0.45],[-1.05,-0.4],[-0.78,-0.5],[-1.22,-1.35],[-1.75,-1.1],[-2.0,-0.6],[-2.1,-0.2],
  [-1.9,0.2],[-1.5,0.3],[-1.05,0.2],[-0.6,0.05],[-0.3,-0.7],[-0.25,-1.1],[-0.5,-1.65],[-1.4,-1.85],[-1.85,-1.5],[-2.15,-1.3],
  [-1.0,-1.05],[-1.15,-0.85],[-0.95,-0.8],[-1.25,-0.95],[-1.35,-0.65],[-0.72,-0.68],[-0.8,-1.4],[-1.52,-0.88],[-0.55,-0.8],[-1.7,-0.3],
  [-1.25,0.35],[-0.9,0.4],[-1.7,0.35],[-2.3,-0.45],[-2.05,-1.55],[-0.6,-1.9],[-1.0,-1.85],[-0.35,-1.45],[-0.15,-0.6],[-1.45,-1.3],
  [-1.03,-0.93],[-1.17,-0.76],[-0.89,-1.02],[-1.29,-1.04],[-0.96,-0.71],[-1.11,-1.16],[-0.78,-0.94],[-1.36,-0.82],[-1.06,-0.63],[-0.93,-1.21],
  [-1.22,-0.87],[-0.84,-0.67],[-1.41,-1.01],[-1.14,-1.28],[-0.71,-1.12],[-1.27,-0.61],[-0.99,-1.07],[-1.19,-0.96],[-0.87,-0.84],[-1.33,-1.19]
];

const fakeSets = [gatGmmPts, vganPts, pacVganPts, gmGanPts];

function translate(x, y) {
  return 'translate(' + x + ',' + y + ')';
}

const svgWidth = 1144, svgHeight = 313;
const margin = {top: 32.3, left: 44.3};
const panelW = 248.2, panelH = 247.8, panelStep = 279.7;

const svg = d3.select('#chart')
  .append('svg')
    .attr('width', svgWidth)
    .attr('height', svgHeight);

svg.append('rect')
  .attr('width', svgWidth)
  .attr('height', svgHeight)
  .attr('fill', '#fff');

svg.append('defs').append('clipPath')
    .attr('id', 'plotArea')
  .append('rect')
    .attr('width', panelW)
    .attr('height', panelH);

const x = d3.scaleLinear().domain([-3, 3]).range([0, panelW]);
const y = d3.scaleLinear().domain([-3, 3]).range([panelH, 0]);
const fmt = d3.format('d'); // d3 v7 uses the unicode minus sign

titles.forEach(function (title, i) {
  const g = svg.append('g')
    .attr('transform', translate(margin.left + i * panelStep, margin.top));

  const dots = g.append('g').attr('clip-path', 'url(#plotArea)');

  // real data first, generated on top
  dots.selectAll('circle.real')
    .data(realPts)
    .enter()
      .append('circle')
      .attr('class', 'real')
      .attr('cx', d => x(d[0]))
      .attr('cy', d => y(d[1]))
      .attr('r', 3.4)
      .attr('fill', '#0000ff')
      .attr('fill-opacity', 0.5);

  dots.selectAll('circle.fake')
    .data(fakeSets[i])
    .enter()
      .append('circle')
      .attr('class', 'fake')
      .attr('cx', d => x(d[0]))
      .attr('cy', d => y(d[1]))
      .attr('r', 3.4)
      .attr('fill', '#ff0000')
      .attr('fill-opacity', 0.19);

  const xAxis = d3.axisBottom(x).tickValues(ticks).tickFormat(fmt)
    .tickSize(3.5).tickSizeOuter(0).tickPadding(4);
  const yAxis = d3.axisLeft(y).tickValues(ticks).tickFormat(i === 0 ? fmt : '')
    .tickSize(3.5).tickSizeOuter(0).tickPadding(3);

  const gx = g.append('g')
    .attr('transform', translate(0, panelH))
    .call(xAxis);
  const gy = g.append('g').call(yAxis);

  [gx, gy].forEach(function (a) {
    a.select('.domain').remove();
    a.selectAll('line').attr('stroke', '#000').attr('stroke-width', 0.9);
    a.selectAll('text')
      .attr('fill', '#000')
      .style('font-family', '"DejaVu Sans", sans-serif')
      .style('font-size', '20px');
  });

  // frame
  g.append('rect')
    .attr('width', panelW)
    .attr('height', panelH)
    .attr('fill', 'none')
    .attr('stroke', '#000')
    .attr('stroke-width', 0.9);

  g.append('text')
    .attr('x', panelW / 2)
    .attr('y', -6.3)
    .attr('text-anchor', 'middle')
    .style('font-size', '24.5px')
    .text(title);
});
</script>
</body>
</html>
